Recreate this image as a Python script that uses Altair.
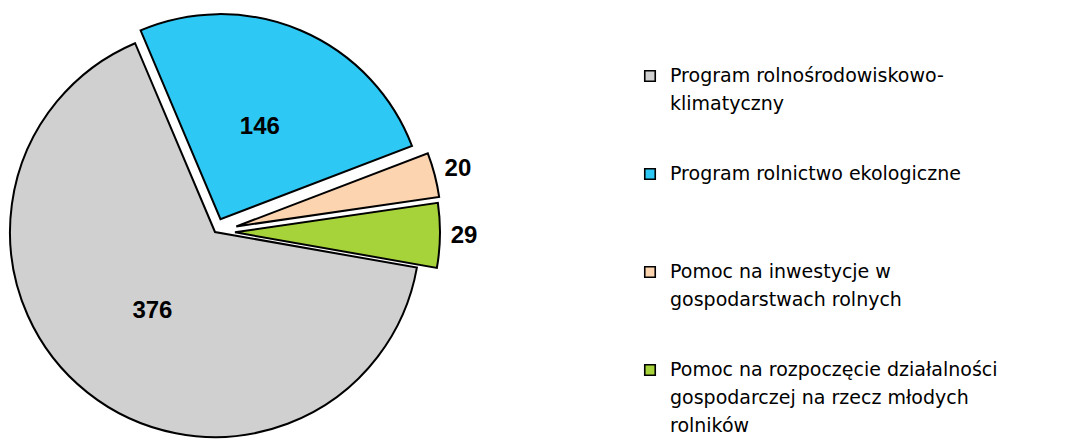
import altair as alt
import pandas as pd

# ---- data ----
CATEGORIES = [
    "Program rolnośrodowiskowo-klimatyczny",
    "Program rolnictwo ekologiczne",
    "Pomoc na inwestycje w gospodarstwach rolnych",
    "Pomoc na rozpoczęcie działalności gospodarczej na rzecz młodych rolników",
]
VALUES = [376, 146, 20, 29]
LEGEND_LABELS = [
    "Program rolnośrodowiskowo-\nklimatyczny",
    "Program rolnictwo ekologiczne",
    "Pomoc na inwestycje w\ngospodarstwach rolnych",
    "Pomoc na rozpoczęcie działalności\ngospodarczej na rzecz młodych\nrolników",
]

# ---- styles ----
COLORS = ["#d0d0d0", "#2ec8f4", "#fcd4b0", "#a6d33a"]
EXPLODE = [0, 14, 22, 20]          # px offset of each slice
W, H = 1059, 431
CX, CY, R = 207, 224, 205
ROT_DEG = 100                      # first slice angle (clockwise from 12 o'clock)
LEG_X, LEG_TX, LEG_Y0, LEG_STEP = 642, 662, 68, 98

df = pd.DataFrame({
    "cat": CATEGORIES,
    "value": VALUES,
    "order": list(range(len(VALUES))),
})
leg = pd.DataFrame({
    "cat": CATEGORIES,
    "label": LEGEND_LABELS,
    "i": list(range(len(CATEGORIES))),
})

explode_js = "[" + ",".join(str(e) for e in EXPLODE) + "]"
rot = f"({ROT_DEG}*PI/180)"

base = (
    alt.Chart(df)
    .transform_window(cum="sum(value)", sort=[alt.SortField("order")], frame=[None, 0])
    .transform_joinaggregate(total="sum(value)")
    .transform_calculate(
        start=f"{rot} + 2*PI*(datum.cum - datum.value)/datum.total",
        end=f"{rot} + 2*PI*datum.cum/datum.total",
    )
    .transform_calculate(
        mid="(datum.start + datum.end)/2",
        ex=f"{explode_js}[datum.order]",
    )
    .transform_calculate(
        cx=f"{CX} + datum.ex*sin(datum.mid)",
        cy=f"{CY} - datum.ex*cos(datum.mid)",
        lr=f"(datum.value/datum.total < 0.1 ? {R}+24 : 0.49*{R}) + datum.ex",
    )
    .transform_calculate(
        lx=f"{CX} + datum.lr*sin(datum.mid)",
        ly=f"{CY} - datum.lr*cos(datum.mid)",
    )
)

color = alt.Color("cat:N", scale=alt.Scale(domain=CATEGORIES, range=COLORS), legend=None)

arcs = base.mark_arc(radius=R, stroke="black", strokeWidth=2).encode(
    theta=alt.Theta("start:Q", scale=None, stack=None),
    theta2=alt.Theta2("end:Q"),
    x=alt.X("cx:Q", scale=None, axis=None),
    y=alt.Y("cy:Q", scale=None, axis=None),
    fill=color,
)

labels = base.mark_text(
    font="Liberation Sans", fontSize=24, fontWeight="bold", color="black",
    align="center", baseline="middle",
).encode(
    x=alt.X("lx:Q", scale=None, axis=None),
    y=alt.Y("ly:Q", scale=None, axis=None),
    text=alt.Text("value:Q"),
)

legbase = alt.Chart(leg).transform_calculate(ly=f"{LEG_Y0} + datum.i*{LEG_STEP}")

symbols = legbase.mark_square(size=110, stroke="black", strokeWidth=1.6, opacity=1).encode(
    x=alt.value(LEG_X),
    y=alt.Y("ly:Q", scale=None, axis=None),
    fill=color,
)

legtext = legbase.mark_text(
    font="DejaVu Sans", fontSize=19, color="black", align="left", baseline="top",
    lineBreak="\n", lineHeight=28, dy=-9,
).encode(
    x=alt.value(LEG_TX),
    y=alt.Y("ly:Q", scale=None, axis=None),
    text="label:N",
)

chart = (
    alt.layer(arcs, labels, symbols, legtext)
    .properties(width=W, height=H, padding=0, autosize=alt.AutoSizeParams(type="none"))
    .configure_view(stroke=None)
)

chart.save("out.html", embed_options={"renderer": "svg", "actions": False})
